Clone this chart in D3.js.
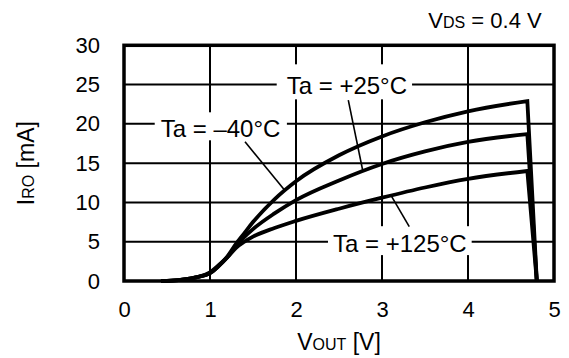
<!DOCTYPE html>
<html>
<head>
<meta charset="utf-8">
<script src="https://cdn.jsdelivr.net/npm/d3@7"></script>
<style>
  html, body { margin: 0; padding: 0; background: #fff; }
  svg { display: block; font-family: "Liberation Sans", Arial, Helvetica, sans-serif; }
</style>
</head>
<body>
<svg id="chart" width="569" height="358"></svg>
<script>
// ---- data ----
const xTicks = [0, 1, 2, 3, 4, 5];
const yTicks = [0, 5, 10, 15, 20, 25, 30];

const vout    = [0.43, 0.55, 0.7, 0.85, 1.0, 1.1, 1.2, 1.3, 1.4, 1.5, 1.75, 2.0, 2.5, 3.0, 3.5, 4.0, 4.69];
const iroM40  = [0, 0.05, 0.2, 0.5, 1.0, 1.9, 3.1, 4.7, 6.1, 7.5, 10.4, 12.7, 16.0, 18.4, 20.2, 21.6, 22.9];
const iroP25  = [0, 0.05, 0.2, 0.5, 1.0, 1.9, 3.0, 4.4, 5.6, 6.6, 8.6, 10.3, 12.8, 14.9, 16.5, 17.7, 18.7];
const iroP125 = [0, 0.05, 0.2, 0.5, 1.1, 2.0, 3.0, 4.2, 5.0, 5.65, 6.75, 7.65, 9.2, 10.6, 11.9, 13.0, 14.0];
const dropVout = 4.8;   // all curves fall to 0 mA here
const dropIro = 0;

const labels = ["Ta = +25°C", "Ta = \u201340°C", "Ta = +125°C"];
// text anchor (left, baseline) in data units
const labelV = [1.892, 0.427, 2.43];
const labelI = [23.76, 18.29, 3.73];
// leader lines: start -> end in data units
const leadV0 = [2.608, 1.407, 3.317];
const leadI0 = [23.03, 17.73, 6.91];
const leadV1 = [2.776, 1.864, 3.113];
const leadI1 = [14.06, 11.6, 10.73];

// ---- layout ----
const svg = d3.select("#chart");
const x = d3.scaleLinear().domain([0, 5]).range([124, 554]);
const y = d3.scaleLinear().domain([0, 30]).range([281, 45.3]);

// grid
const g = svg.append("g");
g.selectAll("line.vg").data(xTicks.slice(1, -1)).enter().append("line")
  .attr("x1", d => x(d)).attr("x2", d => x(d))
  .attr("y1", y(0)).attr("y2", y(30))
  .attr("stroke", "#000").attr("stroke-width", 2);
g.selectAll("line.hg").data(yTicks.slice(1, -1)).enter().append("line")
  .attr("x1", x(0)).attr("x2", x(5))
  .attr("y1", d => y(d)).attr("y2", d => y(d))
  .attr("stroke", "#000").attr("stroke-width", 2);

// label boxes + text (boxes mask gridlines)
const padTop = [8, 3, 3.5], padBot = [0, -2, -1.6], padL = [10, 6, 5], padR = [5, 6.5, 5];
const lab = svg.append("g");
labels.forEach((t, i) => {
  const txt = lab.append("text")
    .attr("x", x(labelV[i])).attr("y", y(labelI[i]))
    .attr("font-size", 24).attr("fill", "#000").text(t);
  const bb = txt.node().getBBox();
  lab.insert("rect", "text")
    .attr("x", bb.x - padL[i]).attr("y", bb.y - padTop[i])
    .attr("width", bb.width + padL[i] + padR[i])
    .attr("height", bb.height + padTop[i] + padBot[i])
    .attr("fill", "#fff");
});

// leader lines
svg.selectAll("line.lead").data(labels).enter().append("line")
  .attr("x1", (d, i) => x(leadV0[i])).attr("y1", (d, i) => y(leadI0[i]))
  .attr("x2", (d, i) => x(leadV1[i])).attr("y2", (d, i) => y(leadI1[i]))
  .attr("stroke", "#000").attr("stroke-width", 1.6);

// curves
const line = d3.line().x(d => x(d[0])).y(d => y(d[1])).curve(d3.curveMonotoneX);
[iroM40, iroP25, iroP125].forEach(series => {
  const pts = vout.map((v, i) => [v, series[i]]);
  const d = line(pts) + "L" + x(dropVout) + "," + y(dropIro);
  svg.append("path").attr("d", d)
    .attr("fill", "none").attr("stroke", "#000")
    .attr("stroke-width", 3.8).attr("stroke-linejoin", "miter");
});

// frame
svg.append("rect")
  .attr("x", x(0)).attr("y", y(30))
  .attr("width", x(5) - x(0)).attr("height", y(0) - y(30))
  .attr("fill", "none").attr("stroke", "#000").attr("stroke-width", 3.5);

// axes
const xAxis = svg.append("g").attr("transform", `translate(0,${y(0)})`)
  .call(d3.axisBottom(x).tickValues(xTicks).tickSize(0).tickPadding(20).tickFormat(d3.format("d")));
const yAxis = svg.append("g").attr("transform", `translate(${x(0)},0)`)
  .call(d3.axisLeft(y).tickValues(yTicks).tickSize(0).tickPadding(24).tickFormat(d3.format("d")));
[xAxis, yAxis].forEach(a => {
  a.select(".domain").remove();
  a.selectAll("text").attr("font-size", 22).attr("fill", "#000");
  a.attr("font-family", null);
});

// axis titles
const xt = svg.append("text").attr("x", x(2.5)).attr("y", 350)
  .attr("text-anchor", "middle").attr("font-size", 23);
xt.append("tspan").text("V");
xt.append("tspan").attr("font-size", 16).text("OUT");
xt.append("tspan").text(" [V]");

const yt = svg.append("text")
  .attr("transform", `translate(34,${y(15)}) rotate(-90)`)
  .attr("text-anchor", "middle").attr("font-size", 23);
yt.append("tspan").text("I");
yt.append("tspan").attr("font-size", 16).text("RO");
yt.append("tspan").text(" [mA]");

// condition note
const nt = svg.append("text").attr("x", 541.7).attr("y", 28.3)
  .attr("text-anchor", "end").attr("font-size", 22);
nt.append("tspan").text("V");
nt.append("tspan").attr("font-size", 16).text("DS");
nt.append("tspan").text(" = 0.4 V");
</script>
</body>
</html>
